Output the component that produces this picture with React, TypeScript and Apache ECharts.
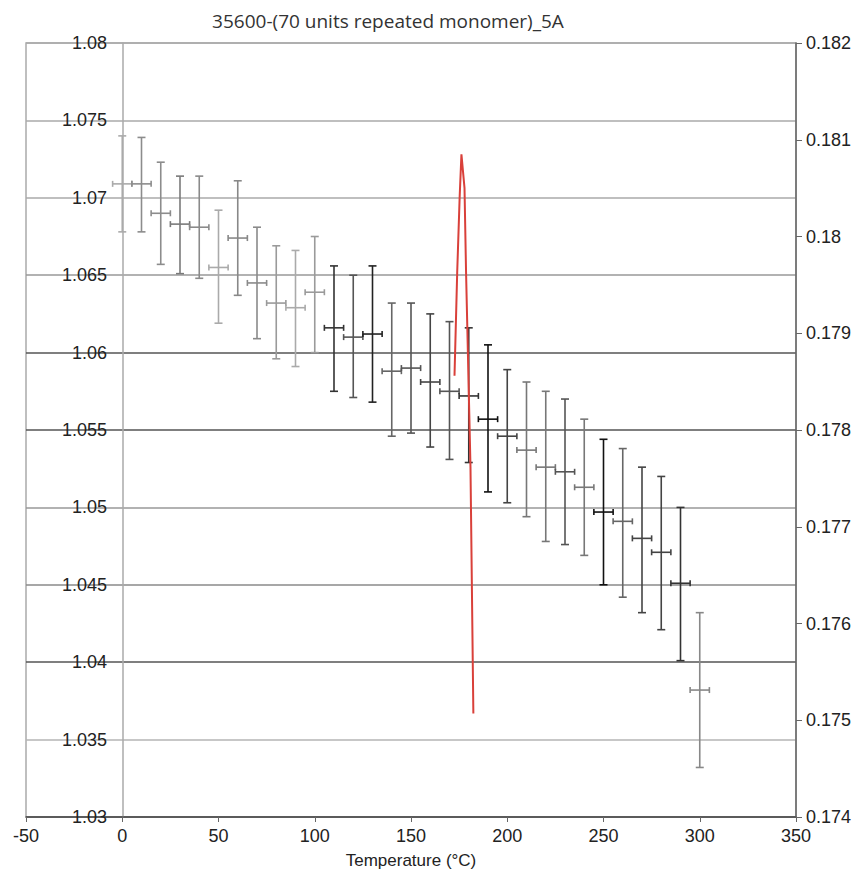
import React, { useEffect, useRef } from "react";
import * as echarts from "echarts";

const chartTitle = "35600-(70 units repeated monomer)_5A";
const xAxisName = "Temperature (°C)";

const temperatures = [0, 10, 20, 30, 40, 50, 60, 70, 80, 90, 100, 110, 120, 130, 140, 150, 160, 170, 180, 190, 200, 210, 220, 230, 240, 250, 260, 270, 280, 290, 300];
const meanValues = [1.0709, 1.0709, 1.069, 1.0683, 1.0681, 1.0655, 1.0674, 1.0645, 1.0632, 1.0629, 1.0639, 1.0616, 1.061, 1.0612, 1.0588, 1.059, 1.0581, 1.0575, 1.0572, 1.0557, 1.0546, 1.0537, 1.0526, 1.0523, 1.0513, 1.0497, 1.0491, 1.048, 1.0471, 1.0451, 1.0382];
const upperValues = [1.074, 1.0739, 1.0723, 1.0714, 1.0714, 1.0692, 1.0711, 1.0681, 1.0669, 1.0666, 1.0675, 1.0656, 1.065, 1.0656, 1.0632, 1.0632, 1.0625, 1.062, 1.0616, 1.0605, 1.0589, 1.0581, 1.0575, 1.057, 1.0557, 1.0544, 1.0538, 1.0526, 1.052, 1.05, 1.0432];
const lowerValues = [1.0678, 1.0678, 1.0657, 1.0651, 1.0648, 1.0619, 1.0637, 1.0609, 1.0596, 1.0591, 1.06, 1.0575, 1.0571, 1.0568, 1.0546, 1.0548, 1.0539, 1.0531, 1.0529, 1.051, 1.0503, 1.0494, 1.0478, 1.0476, 1.0469, 1.045, 1.0442, 1.0432, 1.0421, 1.0401, 1.0332];
const temperatureError = 5;

const redCurveX = [172.6, 174.0, 175.3, 176.2, 177.8, 178.6, 180.9, 182.4];
const redCurveY = [0.17856, 0.17963, 0.18042, 0.18085, 0.1805, 0.17963, 0.17762, 0.17507];

const barShades = ["#aaaaaa", "#8c8c8c", "#8c8c8c", "#7a7a7a", "#8a8a8a", "#aaaaaa", "#888888", "#8a8a8a", "#9a9a9a", "#aaaaaa", "#9a9a9a", "#333333", "#555555", "#222222", "#666666", "#555555", "#444444", "#555555", "#333333", "#111111", "#444444", "#777777", "#777777", "#555555", "#777777", "#111111", "#666666", "#444444", "#444444", "#333333", "#888888"];

const FONT = "'Liberation Sans', Arial, sans-serif";

export default function App() {
  const ref = useRef<HTMLDivElement>(null);
  useEffect(() => {
    document.body.style.margin = "0";
    if (!ref.current) return;
    const chart = echarts.init(ref.current, null, { renderer: "svg" });
    const errData = temperatures.map((t, i) => [t, meanValues[i], lowerValues[i], upperValues[i], temperatureError]);
    const option: any = {
      animation: false,
      backgroundColor: "#ffffff",
      graphic: [
        {
          type: "text",
          x: 388,
          y: 21,
          style: {
            text: chartTitle,
            font: "19px 'Open Sans', sans-serif",
            fill: "#333",
            textAlign: "center",
            textVerticalAlign: "middle",
            align: "center",
            verticalAlign: "middle",
          },
        },
        {
          type: "text",
          x: 411,
          y: 860,
          style: {
            text: xAxisName,
            font: "17px 'Liberation Sans', Arial, sans-serif",
            fill: "#222",
            textAlign: "center",
            textVerticalAlign: "middle",
            align: "center",
            verticalAlign: "middle",
          },
        },
      ],
      grid: {
        left: 26,
        right: 67,
        top: 43,
        bottom: 53,
        show: true,
        borderColor: "#aaaaaa",
        borderWidth: 1.5,
        outerBoundsMode: "none",
        containLabel: false,
      },
      xAxis: {
        type: "value",
        min: -50,
        max: 350,
        interval: 50,
        axisLine: { onZero: false, lineStyle: { color: "#555", width: 1.5 } },
        axisTick: { show: true, length: 5, lineStyle: { color: "#666" } },
        axisLabel: { fontSize: 18, color: "#222", fontFamily: FONT, margin: 10 },
        splitLine: { show: false },
      },
      yAxis: [
        {
          type: "value",
          position: "left",
          min: 1.03,
          max: 1.08,
          interval: 0.005,
          axisLine: { show: true, onZero: true, lineStyle: { color: "#aaaaaa", width: 1.5 } },
          axisTick: { show: false },
          axisLabel: { fontSize: 18, color: "#222", fontFamily: FONT, margin: -81 },
          splitLine: {
            show: true,
            lineStyle: {
              color: ["#555555", "#b5b5b5", "#555555", "#8a8a8a", "#999999", "#555555", "#555555", "#999999", "#aaaaaa", "#aaaaaa", "#aaaaaa"],
              width: 1.5,
            },
          },
        },
        {
          type: "value",
          position: "right",
          min: 0.174,
          max: 0.182,
          interval: 0.001,
          axisLine: { show: true, onZero: false, lineStyle: { color: "#666", width: 1.5 } },
          axisTick: { show: true, length: 6, lineStyle: { color: "#666" } },
          axisLabel: { fontSize: 18, color: "#222", fontFamily: FONT, margin: 10 },
          splitLine: { show: false },
        },
      ],
      series: [
        {
          type: "custom",
          xAxisIndex: 0,
          yAxisIndex: 0,
          clip: false,
          data: errData,
          encode: { x: 0, y: [1, 2, 3] },
          renderItem: (params: any, api: any) => {
            const x = api.value(0);
            const y = api.value(1);
            const lo = api.value(2);
            const hi = api.value(3);
            const xe = api.value(4);
            const c = api.coord([x, y]);
            const top = api.coord([x, hi]);
            const bot = api.coord([x, lo]);
            const l = api.coord([x - xe, y]);
            const r = api.coord([x + xe, y]);
            const color = barShades[params.dataIndex % barShades.length];
            const style = { stroke: color, lineWidth: 1.6, fill: "none" };
            const cap = 4;
            const hcap = 3;
            return {
              type: "group",
              children: [
                { type: "line", shape: { x1: c[0], y1: top[1], x2: c[0], y2: bot[1] }, style },
                { type: "line", shape: { x1: c[0] - cap, y1: top[1], x2: c[0] + cap, y2: top[1] }, style },
                { type: "line", shape: { x1: c[0] - cap, y1: bot[1], x2: c[0] + cap, y2: bot[1] }, style },
                { type: "line", shape: { x1: l[0], y1: c[1], x2: r[0], y2: c[1] }, style },
                { type: "line", shape: { x1: l[0], y1: c[1] - hcap, x2: l[0], y2: c[1] + hcap }, style },
                { type: "line", shape: { x1: r[0], y1: c[1] - hcap, x2: r[0], y2: c[1] + hcap }, style },
              ],
            };
          },
        },
        {
          type: "line",
          xAxisIndex: 0,
          yAxisIndex: 1,
          data: redCurveX.map((x, i) => [x, redCurveY[i]]),
          showSymbol: false,
          symbol: "none",
          smooth: false,
          lineStyle: { color: "#d9403a", width: 2 },
        },
      ],
    };
    chart.setOption(option);
    return () => chart.dispose();
  }, []);
  return <div ref={ref} style={{ width: 863, height: 870 }} />;
}
